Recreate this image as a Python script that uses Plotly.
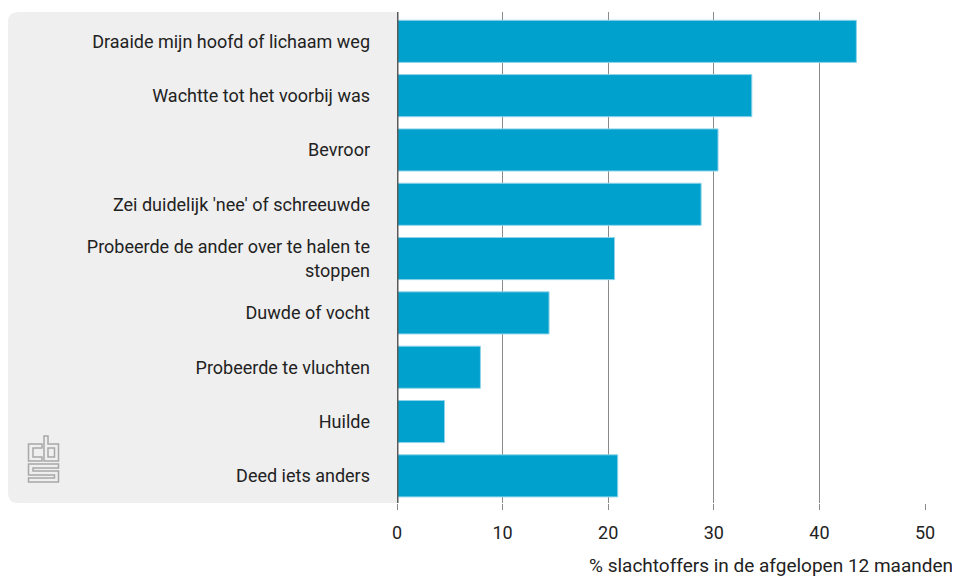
import plotly.graph_objects as go

categories = [
    "Draaide mijn hoofd of lichaam weg",
    "Wachtte tot het voorbij was",
    "Bevroor",
    "Zei duidelijk 'nee' of schreeuwde",
    "Probeerde de ander over te halen te<br>stoppen",
    "Duwde of vocht",
    "Probeerde te vluchten",
    "Huilde",
    "Deed iets anders",
]
values = [43.5, 33.6, 30.4, 28.8, 20.6, 14.4, 7.9, 4.5, 20.9]
x_ticks = [0, 10, 20, 30, 40, 50]
x_title = "% slachtoffers in de afgelopen 12 maanden"

# page is offset by the browser's 8px body margin
OFF = 8
W, H = 960 - OFF, 577 - OFF
L, T = 397 - OFF, 12 - OFF
PW = 528
PH = 491
R = W - L - PW
B = H - T - PH

def px(x):
    return (x - OFF - L) / PW

def py(y):
    return (T + PH - (y - OFF)) / PH

fig = go.Figure(go.Bar(
    x=values, y=categories, orientation="h",
    marker=dict(color="#00a1cd", line=dict(color="#8fd3ea", width=1)),
    width=0.775,
))

shapes = []
x0, x1, y0, y1, r = 8, 397, 12, 503, 10
path = (f"M {px(x1)},{py(y0)} L {px(x0+r)},{py(y0)} "
        f"Q {px(x0)},{py(y0)} {px(x0)},{py(y0+r)} "
        f"L {px(x0)},{py(y1-r)} Q {px(x0)},{py(y1)} {px(x0+r)},{py(y1)} "
        f"L {px(x1)},{py(y1)} Z")
shapes.append(dict(type="path", path=path, xref="paper", yref="paper",
                   fillcolor="#efefef", line=dict(width=0), layer="below"))

def poly(pts):
    d = "M " + " L ".join(f"{px(a)},{py(b)}" for a, b in pts) + " Z"
    return dict(type="path", path=d, xref="paper", yref="paper",
                line=dict(color="#a8a8a8", width=1.5), fillcolor="rgba(0,0,0,0)")
shapes.append(poly([(28.5, 444), (42, 444), (42, 448), (33, 448), (33, 457), (42, 457), (42, 461), (28.5, 461)]))
shapes.append(poly([(44, 436), (48, 436), (48, 444), (58.5, 444), (58.5, 461), (44, 461)]))
shapes.append(poly([(48, 448), (54.5, 448), (54.5, 457), (48, 457)]))
shapes.append(poly([(28.5, 464), (58.5, 464), (58.5, 468), (33, 468), (33, 471), (58.5, 471),
                    (58.5, 482), (28.5, 482), (28.5, 478), (54.5, 478), (54.5, 475), (28.5, 475)]))

shapes.append(dict(type="line", xref="x", yref="paper", x0=0, x1=0, y0=0, y1=1,
                   line=dict(color="#5a5a5a", width=3)))

FONT = "Roboto"
fig.update_layout(
    width=W, height=H,
    margin=dict(l=L, r=R, t=T, b=B),
    paper_bgcolor="white", plot_bgcolor="rgba(0,0,0,0)",
    font=dict(family=FONT, size=18, color="#222"),
    showlegend=False,
    shapes=shapes,
    xaxis=dict(range=[0, 50], tickvals=x_ticks, showgrid=True, gridcolor="#8a8a8a",
               gridwidth=1, zeroline=False, ticks="outside", ticklen=6,
               tickcolor="#8a8a8a", tickfont=dict(size=18, color="#222"),
               ticklabelstandoff=7, fixedrange=True),
    yaxis=dict(categoryorder="array", categoryarray=categories[::-1],
               autorange=False, range=[-0.5, len(categories) - 0.46],
               showgrid=False, zeroline=False, ticks="", ticklabelstandoff=26,
               tickfont=dict(size=18, color="#222")),
    annotations=[dict(text=x_title, xref="paper", yref="paper",
                      x=px(955), y=py(565), xanchor="right", yanchor="middle",
                      showarrow=False, font=dict(size=19, color="#222"))],
)

fig.write_html("out.html")
